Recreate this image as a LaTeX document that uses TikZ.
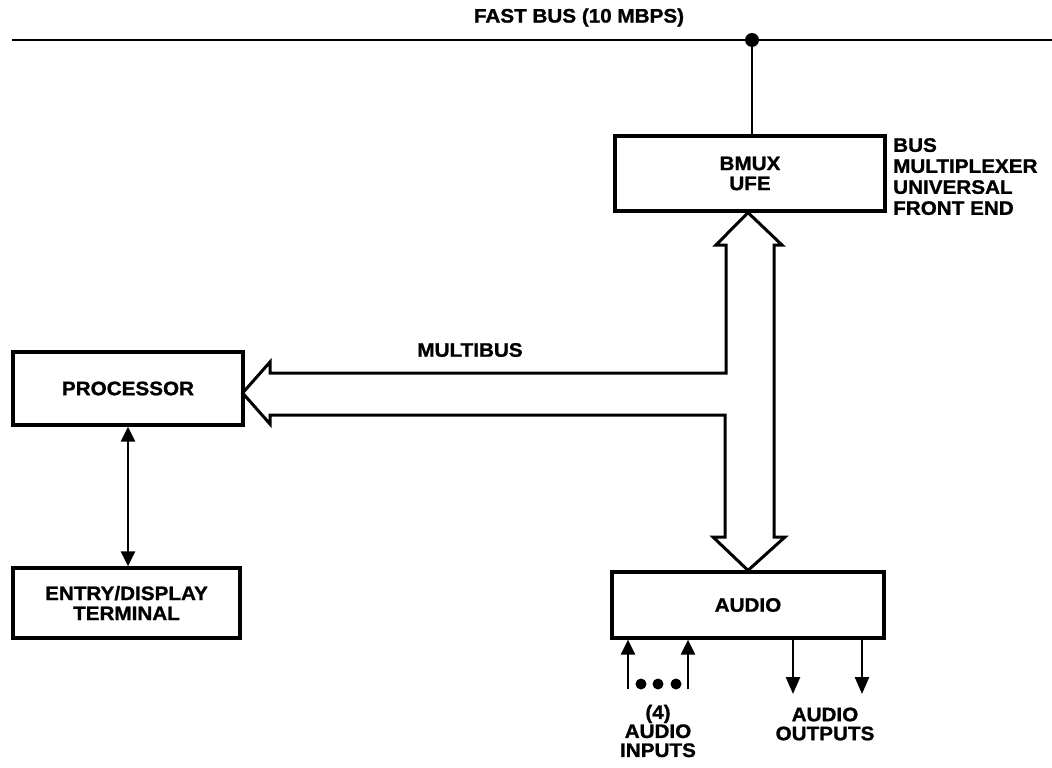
\documentclass[tikz,border=0pt]{standalone}
\usepackage{fontspec}
\setmainfont[FakeStretch=1.06,BoldFeatures={FakeBold=1.2}]{Liberation Sans}
\usetikzlibrary{arrows.meta,calc}
\begin{document}
\begin{tikzpicture}[x=1pt,y=-1pt,
  box/.style={draw,line width=3.2pt,inner sep=0pt,align=center,font=\lbl},
  lab/.style={inner sep=0pt,align=center,font=\lbl},
  conn/.style={line width=2.6pt},
  fat/.style={line width=3pt,line join=miter},
  tri/.style={-{Triangle[length=15pt,width=14pt]}},
  dottip/.style={circle,fill,inner sep=0pt,minimum size=#1}
]
\newcommand{\lbl}{\fontsize{19.5}{20}\selectfont\bfseries}
\useasboundingbox (0,0) rectangle (1052,768);
% fast bus
\coordinate (busL) at (12,40);
\coordinate (busR) at (1052,40);
\draw[line width=2.6pt] (busL) -- (busR);
\node[lab] (fastbus) at (579,17.5) {FAST BUS (10 MBPS)};
\node[dottip=14pt] (junc) at (752,40) {};
% boxes
\node[box,minimum width=270pt,minimum height=75pt] (bmux) at (750,173.5) {BMUX\\UFE};
\node[box,minimum width=272pt,minimum height=66pt] (audio) at (748,605) {AUDIO};
\node[box,minimum width=230pt,minimum height=73pt] (proc) at (128,388.5) {PROCESSOR};
\node[box,minimum width=227pt,minimum height=70pt] (term) at (126.5,603) {ENTRY/DISPLAY\\TERMINAL};
\draw[conn] (junc) -- (junc |- bmux.north);
\node[lab,align=left,anchor=north west,font=\fontsize{19.5}{21}\selectfont\bfseries] (bmuxlab) at (893,138) {BUS\\MULTIPLEXER\\UNIVERSAL\\FRONT END};
% multibus fat arrow
\draw[fat] ($(bmux.south)+(-2,0)$) -- (782,245) -- (774,245) -- (774,537) -- (785,537)
  -- ($(audio.north)+(0,0)$) -- (713,537) -- (725,537) -- (725,415) -- (270,415) -- (270,424)
  -- ($(proc.east)+(-2,4.5)$) -- (270,362) -- (270,373) -- (726,373) -- (726,245) -- (716,245) -- cycle;
\node[lab] (multibus) at (470,350) {MULTIBUS};
% processor - terminal
\draw[conn,{Triangle[length=15pt,width=14pt]}-{Triangle[length=15pt,width=14pt]}] (proc.south) -- (proc.south |- term.north);
% audio inputs
\coordinate (in1) at (628,689);
\coordinate (in2) at (688,689);
\draw[conn,tri] (in1) -- (in1 |- audio.south);
\draw[conn,tri] (in2) -- (in2 |- audio.south);
\node[dottip=11pt] (d1) at (641,684) {};
\node[dottip=11pt] (d2) at (658,684) {};
\node[dottip=11pt] (d3) at (676,684) {};
\node[lab,font=\fontsize{19.5}{19}\selectfont\bfseries] (inlab) at (658,731) {(4)\\AUDIO\\INPUTS};
% audio outputs
\coordinate (out1) at (793,694);
\coordinate (out2) at (862,694);
\draw[conn,{Triangle[length=17pt,width=14pt]}-] (out1) -- (out1 |- audio.south);
\draw[conn,{Triangle[length=17pt,width=14pt]}-] (out2) -- (out2 |- audio.south);
\node[lab,font=\fontsize{19.5}{19}\selectfont\bfseries] (outlab) at (825,724) {AUDIO\\OUTPUTS};
\end{tikzpicture}
\end{document}
